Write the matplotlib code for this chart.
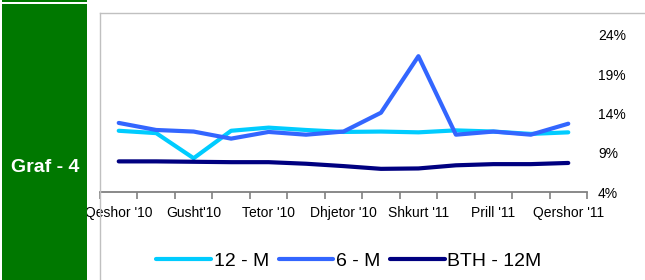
import matplotlib
matplotlib.use("Agg")
import matplotlib.pyplot as plt
from matplotlib.patches import Rectangle
from matplotlib.lines import Line2D

plt.rcParams['font.family'] = ['Liberation Sans', 'DejaVu Sans']

# data (yields, %)
months = ["Qeshor '10", "Korrik '10", "Gusht'10", "Shtator '10", "Tetor '10",
          "Nentor '10", "Dhjetor '10", "Janar '11", "Shkurt '11", "Mars '11",
          "Prill '11", "Maj '11", "Qershor '11"]
m12 = [11.8, 11.5, 8.3, 11.8, 12.2, 11.9, 11.65, 11.7, 11.6, 11.85, 11.7, 11.4, 11.6]
m6 = [12.8, 11.9, 11.7, 10.8, 11.65, 11.3, 11.7, 14.1, 21.3, 11.3, 11.7, 11.3, 12.7]
bth12 = [7.9, 7.9, 7.85, 7.8, 7.8, 7.6, 7.3, 6.95, 7.0, 7.4, 7.55, 7.55, 7.7]
yticks = [4, 9, 14, 19, 24]

fig = plt.figure(figsize=(6.45, 2.8), dpi=100)
W, H = 645, 280

ax = fig.add_axes([100 / W, (H - 192) / H, 487 / W, 157 / H])
x = list(range(len(months)))
ax.plot(x, m12, color='#00CCFF', lw=3, label='12 - M', solid_capstyle='round')
ax.plot(x, m6, color='#3366FF', lw=3, label='6 - M', solid_capstyle='round')
ax.plot(x, bth12, color='#000080', lw=3, label='BTH - 12M', solid_capstyle='round')

ax.set_xlim(-0.5, len(months) - 0.5)
ax.set_ylim(4, 24)
for s in ['top', 'left', 'right']:
    ax.spines[s].set_visible(False)
ax.spines['bottom'].set_color('#808080')
ax.spines['bottom'].set_linewidth(1.3)

ax.set_xticks(x[::2])
ax.set_xticklabels(months[::2], fontsize=10)
ax.set_xticks([i - 0.5 for i in range(len(months) + 1)], minor=True)
ax.tick_params(axis='x', which='major', length=0, pad=10)
ax.tick_params(axis='x', which='minor', length=5, width=1.2, color='#808080', direction='out')

ax.yaxis.tick_right()
ax.set_yticks(yticks)
ax.set_yticklabels([f"{v}%" for v in yticks], fontsize=10)
ax.tick_params(axis='y', length=0, pad=8)

# outer chart frame
fig.add_artist(Line2D([99.5 / W, 99.5 / W], [0, 1 - 13 / H], color='#C0C0C0', lw=1))
fig.add_artist(Line2D([99.5 / W, 1], [1 - 13 / H, 1 - 13 / H], color='#C0C0C0', lw=1))

# green side panel
fig.add_artist(Rectangle((2 / W, 0), 85 / W, 1 - 4 / H, transform=fig.transFigure,
                         facecolor='#007800', edgecolor='none', zorder=5))
fig.add_artist(Rectangle((2 / W, 1 - 2 / H), 85 / W, 2 / H, transform=fig.transFigure,
                         facecolor='#007800', edgecolor='none', zorder=5))
fig.text(45 / W, 1 - 168 / H, "Graf - 4", color='white', fontsize=14, fontweight='bold',
         ha='center', va='center', zorder=6)

fig.legend(loc='center', bbox_to_anchor=(349 / W, 1 - 260.7 / H), ncol=3, frameon=False,
           fontsize=14, handlelength=2.8, handletextpad=0.15, columnspacing=0.5)

fig.savefig("out.png", dpi=100)
